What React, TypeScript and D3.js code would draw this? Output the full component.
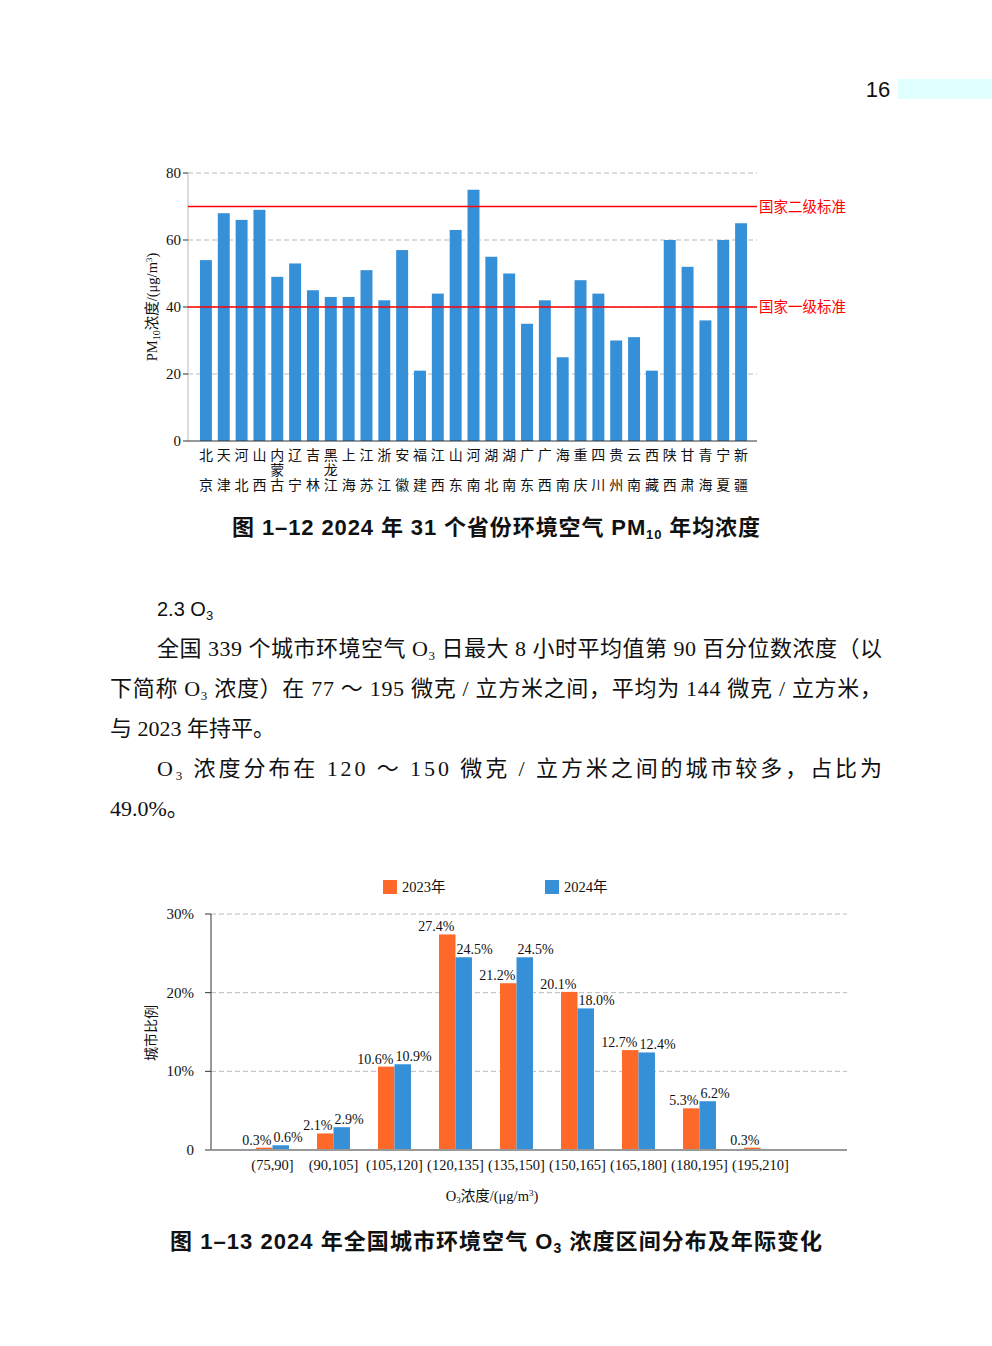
import * as d3 from 'd3';

// PM10 by province (2024)
const provinces = [
  '北京', '天津', '河北', '山西', '内蒙古', '辽宁', '吉林', '黑龙江', '上海', '江苏', '浙江',
  '安徽', '福建', '江西', '山东', '河南', '湖北', '湖南', '广东', '广西', '海南', '重庆',
  '四川', '贵州', '云南', '西藏', '陕西', '甘肃', '青海', '宁夏', '新疆',
];
const pm10 = [
  54, 68, 66, 69, 49, 53, 45, 43, 43, 51, 42, 57, 21, 44, 63, 75, 55, 50, 35, 42, 25, 48,
  44, 30, 31, 21, 60, 52, 36, 60, 65,
];
const pm10Ticks = [0, 20, 40, 60, 80];
const standardLabels = ['国家二级标准', '国家一级标准'];
const standardValues = [70, 40];

// O3 distribution
const o3Bins = ['(75,90]', '(90,105]', '(105,120]', '(120,135]', '(135,150]', '(150,165]', '(165,180]', '(180,195]', '(195,210]'];
const share2023 = [0.3, 2.1, 10.6, 27.4, 21.2, 20.1, 12.7, 5.3, 0.3];
const share2024: (number | null)[] = [0.6, 2.9, 10.9, 24.5, 24.5, 18.0, 12.4, 6.2, null];
const shareTicks = [0, 10, 20, 30];
const seriesNames = ['2023年', '2024年'];

const SERIF = '"Liberation Serif", "Noto Sans CJK SC", serif';
const SANS = '"Liberation Sans", "Noto Sans CJK SC", sans-serif';
const BLUE = '#3590d8';
const ORANGE = '#fe6828';

function Pm10Chart() {
  const x = d3.scaleBand<string>().domain(provinces).range([197, 750]).paddingInner(0.33).paddingOuter(0.165);
  const y = d3.scaleLinear().domain([0, 80]).range([441, 173]);
  const left = 188;
  const right = 757;
  return (
    <g>
      {pm10Ticks.filter((t) => t > 0).map((t) => (
        <line key={t} x1={left} x2={right} y1={y(t)} y2={y(t)} stroke="#bbb" strokeDasharray="5,3" />
      ))}
      <line x1={left} x2={left} y1={y(80)} y2={y(0)} stroke="#bbb" />
      {pm10Ticks.map((t) => (
        <g key={t}>
          <line x1={left - 5} x2={left} y1={y(t)} y2={y(t)} stroke="#333" />
          <text x={left - 7} y={y(t) + 5} textAnchor="end" fontFamily={SERIF} fontSize={15} fill="#111">
            {t}
          </text>
        </g>
      ))}
      {provinces.map((p, i) => (
        <rect key={p} x={x(p)} y={y(pm10[i])} width={x.bandwidth()} height={y(0) - y(pm10[i])} fill={BLUE} />
      ))}
      <line x1={left} x2={right} y1={y(0)} y2={y(0)} stroke="#333" />
      {standardValues.map((v, i) => (
        <g key={v}>
          <line x1={left} x2={right} y1={y(v)} y2={y(v)} stroke="#ff0000" strokeWidth={1.5} />
          <text x={right + 2} y={y(v) + 5} fontFamily={SERIF} fontSize={14.5} fill="#ff0000">
            {standardLabels[i]}
          </text>
        </g>
      ))}
      {provinces.map((p) => {
        const cx = (x(p) ?? 0) + x.bandwidth() / 2;
        const chars = p.split('');
        const ys = chars.length === 3 ? [460, 475, 490] : [460, 490];
        return chars.map((c, j) => (
          <text key={p + j} x={cx} y={ys[j]} textAnchor="middle" fontFamily={SERIF} fontSize={14} fill="#111">
            {c}
          </text>
        ));
      })}
      <text transform="translate(157,307) rotate(-90)" textAnchor="middle" fontFamily={SERIF} fontSize={14.5} fill="#111">
        PM<tspan fontSize={10} dy={3}>10</tspan>
        <tspan dy={-3}>浓度/(μg/m</tspan>
        <tspan fontSize={9} dy={-5}>3</tspan>
        <tspan dy={5}>)</tspan>
      </text>
    </g>
  );
}

function O3Chart() {
  const x = d3.scaleBand<string>().domain(o3Bins).range([242, 791]).paddingInner(0.46).paddingOuter(0.23);
  const y = d3.scaleLinear().domain([0, 30]).range([1150, 914]);
  const left = 211;
  const right = 847;
  const half = x.bandwidth() / 2;
  return (
    <g>
      {shareTicks.filter((t) => t > 0).map((t) => (
        <line key={t} x1={left} x2={right} y1={y(t)} y2={y(t)} stroke="#bbb" strokeDasharray="5,3" />
      ))}
      {shareTicks.map((t) => (
        <g key={t}>
          <line x1={left - 6} x2={left} y1={y(t)} y2={y(t)} stroke="#333" />
          <text x={left - 17} y={y(t) + 5} textAnchor="end" fontFamily={SERIF} fontSize={15} fill="#111">
            {t === 0 ? '0' : `${t}%`}
          </text>
        </g>
      ))}
      {o3Bins.map((b, i) => {
        const x0 = x(b) ?? 0;
        const v23 = share2023[i];
        const v24 = share2024[i];
        return (
          <g key={b}>
            <rect x={x0} y={y(v23)} width={half} height={y(0) - y(v23)} fill={ORANGE} />
            <text x={x0 + half - 1} y={y(v23) - 3} textAnchor="end" fontFamily={SERIF} fontSize={14} fill="#111">
              {v23.toFixed(1)}%
            </text>
            {v24 !== null && (
              <>
                <rect x={x0 + half} y={y(v24)} width={half} height={y(0) - y(v24)} fill={BLUE} />
                <text x={x0 + half + 1} y={y(v24) - 3} fontFamily={SERIF} fontSize={14} fill="#111">
                  {v24.toFixed(1)}%
                </text>
              </>
            )}
            <text x={x0 + half} y={1170} textAnchor="middle" fontFamily={SERIF} fontSize={14.5} fill="#111">
              {b}
            </text>
          </g>
        );
      })}
      <line x1={left} x2={left} y1={y(30)} y2={y(0)} stroke="#333" />
      <line x1={left} x2={right} y1={y(0)} y2={y(0)} stroke="#999" strokeWidth={2} />
      {seriesNames.map((s, i) => (
        <g key={s} transform={`translate(${383 + i * 162},880)`}>
          <rect width={14} height={14} fill={i === 0 ? ORANGE : BLUE} />
          <text x={19} y={12} fontFamily={SERIF} fontSize={14.5} fill="#111">
            {s}
          </text>
        </g>
      ))}
      <text transform="translate(156,1033) rotate(-90)" textAnchor="middle" fontFamily={SERIF} fontSize={14} fill="#111">
        城市比例
      </text>
      <text x={492} y={1201} textAnchor="middle" fontFamily={SERIF} fontSize={14.5} fill="#111">
        O<tspan fontSize={9} dy={2}>3</tspan>
        <tspan dy={-2}>浓度/(μg/m</tspan>
        <tspan fontSize={9} dy={-5}>3</tspan>
        <tspan dy={5}>)</tspan>
      </text>
    </g>
  );
}

function Body() {
  const fs = 22;
  const common = { fontFamily: SERIF, fontSize: fs, fill: '#111', lengthAdjust: 'spacing' as const };
  return (
    <g>
      <text x={157} y={616} fontFamily='"Liberation Sans Narrow", "Liberation Sans", sans-serif' fontSize={20} fill="#111">
        2.3 O<tspan fontSize={13} dy={4}>3</tspan>
      </text>
      <text x={157} y={656} textLength={725} {...common}>
        全国 339 个城市环境空气 O<tspan fontSize={13} dy={4}>3</tspan>
        <tspan dy={-4}> 日最大 8 小时平均值第 90 百分位数浓度（以</tspan>
      </text>
      <text x={110} y={696} textLength={772} {...common}>
        下简称 O<tspan fontSize={13} dy={4}>3</tspan>
        <tspan dy={-4}> 浓度）在 77 ～ 195 微克 / 立方米之间，平均为 144 微克 / 立方米，</tspan>
      </text>
      <text x={110} y={736} {...common}>
        与 2023 年持平。
      </text>
      <text x={157} y={776} textLength={725} {...common}>
        O<tspan fontSize={13} dy={4}>3</tspan>
        <tspan dy={-4}> 浓度分布在 120 ～ 150 微克 / 立方米之间的城市较多，占比为</tspan>
      </text>
      <text x={110} y={816} {...common}>
        49.0%。
      </text>
    </g>
  );
}

export default function App() {
  return (
    <svg
      width={992}
      height={1346}
      viewBox="0 0 992 1346"
      style={{ position: 'absolute', left: 0, top: 0, background: '#fff' }}
    >
      <rect width={992} height={1346} fill="#fff" />
      <text x={878} y={97} textAnchor="middle" fontFamily={SANS} fontSize={22} fill="#111">
        16
      </text>
      <rect x={898} y={79} width={94} height={20} fill="#e0ffff" />
      <Pm10Chart />
      <text x={232} y={535} textLength={528} lengthAdjust="spacing" fontFamily={SANS} fontWeight="bold" fontSize={22} fill="#111">
        图 1–12  2024 年 31 个省份环境空气 PM<tspan fontSize={13} dy={4}>10</tspan>
        <tspan dy={-4}> 年均浓度</tspan>
      </text>
      <Body />
      <O3Chart />
      <text x={170} y={1249} textLength={652} lengthAdjust="spacing" fontFamily={SANS} fontWeight="bold" fontSize={22} fill="#111">
        图 1–13  2024 年全国城市环境空气 O<tspan fontSize={14} dy={4}>3</tspan>
        <tspan dy={-4}> 浓度区间分布及年际变化</tspan>
      </text>
    </svg>
  );
}
